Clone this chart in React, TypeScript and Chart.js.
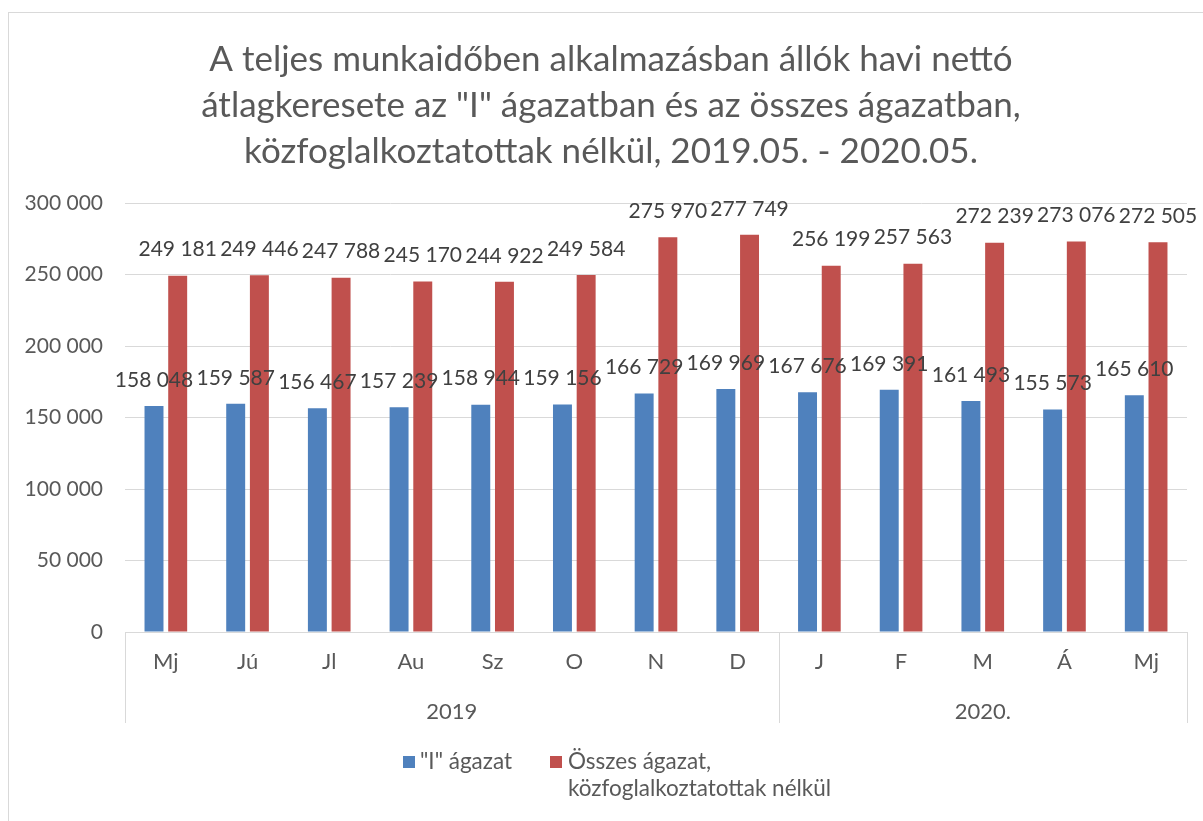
import React, { useEffect, useRef } from "react";
import { Chart, registerables } from "chart.js";

Chart.register(...registerables);

const titleLines = [
  "A teljes munkaidőben alkalmazásban állók havi nettó",
  'átlagkeresete az "I" ágazatban és az összes ágazatban,',
  "közfoglalkoztatottak nélkül, 2019.05. - 2020.05.",
];
const months = ["Mj", "Jú", "Jl", "Au", "Sz", "O", "N", "D", "J", "F", "M", "Á", "Mj"];
const yearLabels = ["2019", "2020."];
const yearCounts = [8, 5];
const seriesINames = ['"I" ágazat'];
const seriesAllNames = ["Összes ágazat,", "közfoglalkoztatottak nélkül"];
const seriesI = [158048, 159587, 156467, 157239, 158944, 159156, 166729, 169969, 167676, 169391, 161493, 155573, 165610];
const seriesAll = [249181, 249446, 247788, 245170, 244922, 249584, 275970, 277749, 256199, 257563, 272239, 273076, 272505];
const yTicks = [0, 50000, 100000, 150000, 200000, 250000, 300000];

const BLUE = "#4F81BD";
const RED = "#C0504D";
const GRID = "#D9D9D9";
const TXT = "#595959";
const LBL = "#404040";
const FONT = "Lato";

const fmt = (v: number) => String(Math.round(v)).replace(/\B(?=(\d{3})+(?!\d))/g, " ");

const customPlugin = {
  id: "custom",
  beforeDraw(chart: any) {
    const ctx = chart.ctx;
    ctx.save();
    ctx.fillStyle = "#ffffff";
    ctx.fillRect(0, 0, chart.width, chart.height);
    ctx.strokeStyle = GRID;
    ctx.lineWidth = 1;
    ctx.strokeRect(8.5, 12.5, 1400, 1000);
    ctx.restore();
  },
  afterDraw(chart: any) {
    const ctx = chart.ctx;
    const area = chart.chartArea;
    const xs = chart.scales.x;
    ctx.save();
    // title
    ctx.fillStyle = TXT;
    ctx.font = `35px ${FONT}`;
    ctx.textAlign = "center";
    ctx.textBaseline = "middle";
    titleLines.forEach((t, i) => ctx.fillText(t, 611, 60 + i * 46));

    // data labels
    ctx.fillStyle = LBL;
    ctx.font = `21px ${FONT}`;
    chart.data.datasets.forEach((ds: any, di: number) => {
      const meta = chart.getDatasetMeta(di);
      meta.data.forEach((el: any, i: number) => {
        ctx.fillText(fmt(ds.data[i]), el.x, el.y - 26);
      });
    });

    // multi-level axis
    ctx.strokeStyle = GRID;
    ctx.lineWidth = 1;
    const bottom = 723;
    let start = 0;
    const seps: number[] = [area.left];
    yearCounts.forEach((c, gi) => {
      const end = start + c - 1;
      const x0 = xs.getPixelForTick(start);
      const x1 = xs.getPixelForTick(end);
      ctx.fillStyle = TXT;
      ctx.font = `22px ${FONT}`;
      ctx.fillText(yearLabels[gi], (x0 + x1) / 2, 712);
      if (gi < yearCounts.length - 1) {
        seps.push((xs.getPixelForTick(end) + xs.getPixelForTick(end + 1)) / 2);
      }
      start += c;
    });
    seps.push(area.right);
    seps.forEach((x) => {
      const px = Math.round(x) + 0.5;
      ctx.beginPath();
      ctx.moveTo(px, area.bottom);
      ctx.lineTo(px, bottom);
      ctx.stroke();
    });

    // legend
    ctx.font = `22.5px ${FONT}`;
    ctx.textAlign = "left";
    ctx.fillStyle = BLUE;
    ctx.fillRect(403, 756, 12, 12);
    ctx.fillStyle = TXT;
    ctx.fillText(seriesINames[0], 420, 762);
    ctx.fillStyle = RED;
    ctx.fillRect(550, 756, 12, 12);
    ctx.fillStyle = TXT;
    seriesAllNames.forEach((t, i) => ctx.fillText(t, 568, 762 + i * 27));
    ctx.restore();
  },
};

export default function App() {
  const ref = useRef<HTMLCanvasElement>(null);
  useEffect(() => {
    document.body.style.margin = "0";
    const chart = new Chart(ref.current!, {
      type: "bar",
      data: {
        labels: months,
        datasets: [
          { label: seriesINames.join(" "), data: seriesI, backgroundColor: BLUE, borderWidth: 0 },
          { label: seriesAllNames.join(" "), data: seriesAll, backgroundColor: RED, borderWidth: 0 },
        ],
      },
      options: {
        responsive: false,
        animation: false,
        layout: { padding: { top: 203, right: 16, bottom: 0, left: 0 } },
        datasets: { bar: { categoryPercentage: 0.58, barPercentage: 0.8 } },
        plugins: { legend: { display: false }, title: { display: false }, tooltip: { enabled: false } },
        scales: {
          x: {
            grid: { display: false },
            border: { display: true, color: GRID },
            ticks: { color: TXT, font: { family: FONT, size: 22 }, padding: 9 },
            afterFit: (s: any) => {
              s.height = 821 - 632;
            },
          },
          y: {
            min: 0,
            max: 300000,
            afterBuildTicks: (s: any) => {
              s.ticks = yTicks.map((v) => ({ value: v }));
            },
            grid: { color: GRID, drawTicks: false },
            border: { display: false },
            ticks: {
              color: TXT,
              font: { family: FONT, size: 21 },
              padding: 22,
              callback: (v: any) => fmt(Number(v)),
            },
            afterFit: (s: any) => {
              s.width = 125;
            },
          },
        },
      },
      plugins: [customPlugin],
    });
    return () => chart.destroy();
  }, []);
  return <canvas ref={ref} width={1203} height={821} style={{ display: "block" }} />;
}
